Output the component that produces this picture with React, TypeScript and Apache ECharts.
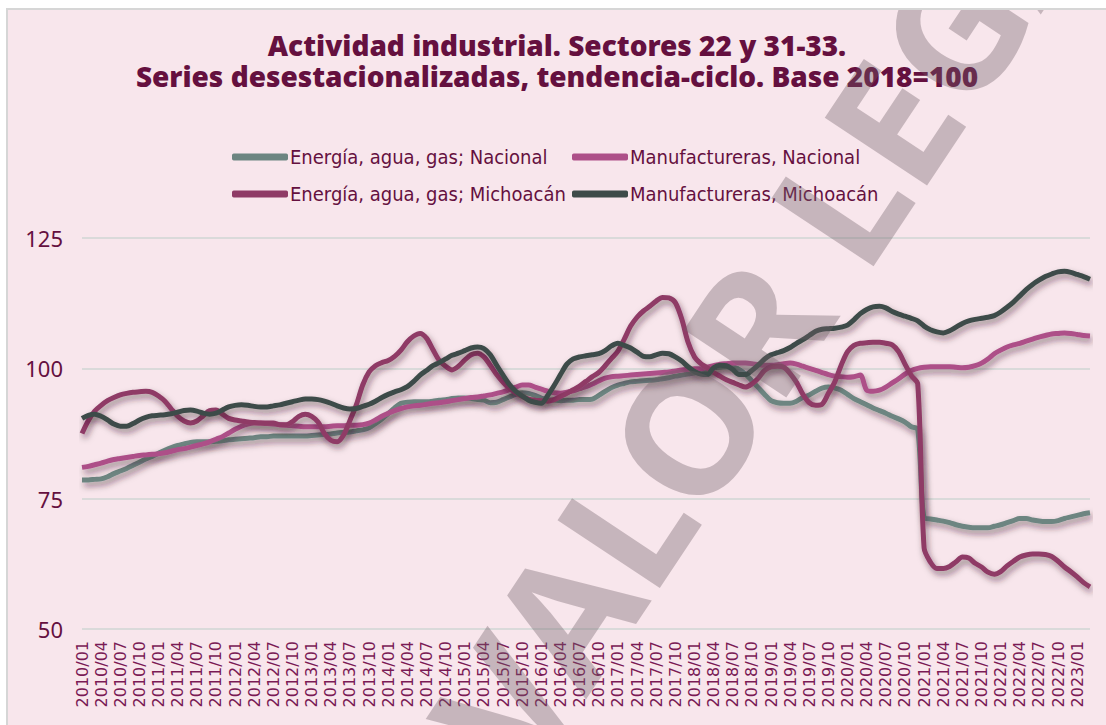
import React, { useEffect, useRef } from "react";
import * as echarts from "echarts";

const titleText = "Actividad industrial. Sectores 22 y 31-33.\nSeries desestacionalizadas, tendencia-ciclo. Base 2018=100";
const seriesNames = [
  "Energía, agua, gas; Nacional",
  "Manufactureras, Nacional",
  "Energía, agua, gas; Michoacán",
  "Manufactureras, Michoacán",
];
const seriesColors = ["#6d8581", "#ad4f88", "#8f3b66", "#3e4b49"];

const firstYear = 2010;
const monthCount = 159;
const months: string[] = [];
for (let i = 0; i < monthCount; i++) {
  const y = firstYear + Math.floor(i / 12);
  const m = (i % 12) + 1;
  months.push(`${y}/${m < 10 ? "0" + m : m}`);
}

const energiaNacional = [
  78.6, 78.6, 78.7, 78.8, 79.2, 79.8, 80.3, 80.8, 81.4, 82.0, 82.6, 83.1,
  83.7, 84.3, 84.8, 85.2, 85.5, 85.8, 85.9, 85.9, 85.9, 86.0, 86.1, 86.3,
  86.4, 86.5, 86.6, 86.7, 86.9, 86.9, 87.0, 87.0, 87.0, 87.0, 87.0, 87.0,
  87.1, 87.2, 87.3, 87.4, 87.6, 87.7, 87.8, 88.0, 88.2, 88.6, 89.4, 90.3,
  91.3, 92.4, 93.3, 93.5, 93.6, 93.6, 93.6, 93.7, 93.9, 94.0, 94.2, 94.3,
  94.3, 94.2, 94.0, 93.9, 93.4, 93.5, 94.0, 94.5, 95.0, 95.3, 95.2, 94.8,
  94.3, 94.0, 93.9, 93.8, 93.9, 93.9, 94.0, 94.0, 94.1, 94.8, 95.6, 96.3,
  96.8, 97.1, 97.4, 97.5, 97.6, 97.7, 97.8, 98.0, 98.2, 98.5, 98.7, 98.9,
  99.1, 99.4, 99.8, 100.1, 100.2, 100.3, 100.3, 99.8, 98.9, 97.6, 96.3, 95.0,
  93.8, 93.4, 93.3, 93.3, 93.7, 94.4, 94.9, 95.6, 96.2, 96.4, 96.2, 95.8,
  95.0, 94.2, 93.6, 93.0, 92.4, 91.9, 91.4, 90.8, 90.3, 89.7, 88.8, 88.3,
  71.3, 71.1, 70.9, 70.7, 70.4, 70.0, 69.7, 69.5, 69.4, 69.4, 69.4, 69.7,
  70.0, 70.4, 70.8, 71.2, 71.2, 70.9, 70.7, 70.6, 70.6, 70.8, 71.2, 71.5,
  71.8, 72.1, 72.3,
];

const manufNacional = [
  81.0, 81.2, 81.5, 81.8, 82.2, 82.5, 82.7, 82.9, 83.1, 83.3, 83.4, 83.5,
  83.6, 83.8, 84.1, 84.4, 84.6, 84.9, 85.2, 85.5, 85.9, 86.4, 86.9, 87.6,
  88.3, 88.9, 89.3, 89.5, 89.5, 89.4, 89.3, 89.2, 89.1, 89.0, 88.9, 88.8,
  88.8, 88.8, 88.8, 88.9, 89.0, 89.0, 89.1, 89.1, 89.2, 89.5, 90.1, 90.8,
  91.4, 91.9, 92.3, 92.6, 92.8, 92.9, 93.1, 93.3, 93.4, 93.6, 93.8, 94.0,
  94.2, 94.4, 94.5, 94.7, 94.9, 95.2, 95.5, 95.9, 96.4, 96.8, 96.8, 96.4,
  96.0, 95.6, 95.3, 95.2, 95.4, 95.7, 96.1, 96.5, 97.0, 97.6, 98.1, 98.4,
  98.5, 98.6, 98.7, 98.8, 98.9, 99.0, 99.1, 99.2, 99.3, 99.5, 99.7, 99.8,
  99.9, 99.9, 100.2, 100.5, 100.8, 100.9, 101.0, 101.0, 101.0, 100.9, 100.7, 100.6,
  100.6, 100.7, 100.9, 101.0, 100.8, 100.4, 100.0, 99.6, 99.2, 98.8, 98.5, 98.4,
  98.3, 98.4, 98.7, 95.8, 95.6, 95.8, 96.4, 97.2, 98.0, 98.9, 99.6, 100.0,
  100.2, 100.3, 100.3, 100.3, 100.3, 100.2, 100.1, 100.2, 100.5, 101.0, 101.8, 102.8,
  103.5, 104.1, 104.5, 104.8, 105.2, 105.6, 106.0, 106.3, 106.6, 106.7, 106.8, 106.7,
  106.5, 106.3, 106.2,
];

const energiaMichoacan = [
  87.5, 90.0, 91.8, 92.9, 93.8, 94.4, 94.9, 95.2, 95.4, 95.5, 95.6, 95.4,
  94.7, 93.7, 92.2, 90.8, 89.9, 89.5, 89.9, 90.9, 91.9, 92.0, 91.2, 90.4,
  90.1, 89.9, 89.7, 89.6, 89.5, 89.5, 89.5, 89.2, 89.2, 89.8, 90.8, 91.2,
  90.8, 89.7, 87.5, 86.2, 85.9, 87.2, 90.0, 93.0, 96.8, 99.3, 100.5, 101.1,
  101.5, 102.3, 103.5, 105.1, 106.2, 106.7, 105.8, 103.6, 101.5, 100.4, 99.7, 100.4,
  101.6, 102.6, 102.9, 102.2, 100.6, 98.8, 97.3, 96.1, 95.3, 94.6, 94.1, 93.9,
  93.8, 93.7, 94.0, 94.6, 95.2, 95.9, 96.6, 97.5, 98.4, 99.2, 100.5, 101.9,
  103.3, 105.6, 108.1, 109.8, 111.0, 111.9, 112.9, 113.6, 113.5, 112.6, 109.5, 105.0,
  102.2, 100.9, 100.1, 99.2, 98.5, 97.8, 97.3, 96.8, 96.4, 97.0, 98.1, 99.6,
  100.3, 100.4, 100.2, 99.0, 97.3, 95.0, 93.4, 92.9, 93.1, 95.2, 97.4, 100.6,
  103.2, 104.4, 104.8, 104.9, 105.0, 105.0, 104.8, 104.5, 103.2, 100.8, 98.6, 97.0,
  65.5, 62.8, 61.6, 61.6, 62.0, 62.9, 63.8, 63.6, 62.6, 61.9, 60.9, 60.5,
  61.0, 62.1, 63.0, 63.8, 64.2, 64.4, 64.4, 64.3, 63.9, 63.0, 61.9, 61.0,
  60.0, 58.9, 58.1,
];

const manufMichoacan = [
  90.4, 91.0, 91.2, 90.8, 90.1, 89.3, 88.9, 88.9, 89.4, 90.1, 90.6, 90.9,
  91.0, 91.1, 91.3, 91.6, 91.9, 92.0, 91.8, 91.4, 91.2, 91.4, 92.0, 92.6,
  92.9, 93.0, 92.9, 92.7, 92.6, 92.6, 92.8, 93.0, 93.3, 93.6, 93.9, 94.1,
  94.1, 94.0, 93.7, 93.3, 92.8, 92.4, 92.2, 92.3, 92.7, 93.1, 93.7, 94.4,
  95.0, 95.5, 95.9, 96.5, 97.5, 98.7, 99.6, 100.5, 101.1, 101.8, 102.5, 102.9,
  103.4, 103.9, 104.1, 103.8, 102.6, 100.6, 98.7, 96.9, 95.6, 94.7, 93.9, 93.5,
  93.3, 94.8, 96.7, 98.8, 100.8, 101.8, 102.2, 102.4, 102.6, 102.8, 103.4, 104.3,
  104.8, 104.4, 103.9, 103.1, 102.3, 102.2, 102.6, 102.9, 102.8, 102.2, 101.4, 100.3,
  99.4, 98.9, 98.8, 100.1, 100.6, 100.5, 99.8, 98.8, 98.8, 99.6, 100.6, 101.8,
  102.6, 103.0, 103.4, 104.0, 104.8, 105.5, 106.3, 107.1, 107.5, 107.6, 107.7, 107.9,
  108.3, 109.3, 110.5, 111.3, 111.8, 111.9, 111.6, 110.9, 110.4, 110.0, 109.6, 109.1,
  108.1, 107.4, 107.0, 106.8, 107.2, 107.9, 108.6, 109.1, 109.4, 109.6, 109.8, 110.1,
  110.8, 111.7, 112.7, 113.9, 115.1, 116.1, 116.9, 117.6, 118.1, 118.5, 118.6, 118.4,
  118.0, 117.6, 117.1,
];

const seriesValues = [energiaNacional, manufNacional, energiaMichoacan, manufMichoacan];

const yMin = 50;
const yMax = 125;
const yInterval = 25;
const watermarkText = "VALOR LEGAL";

const plum = "#65103f";

export default function App() {
  const ref = useRef<HTMLDivElement>(null);
  useEffect(() => {
    if (!ref.current) return;
    const chart = echarts.init(ref.current, undefined, { renderer: "svg" });
    const legendPos = [
      { left: 219, top: 130 },
      { left: 559, top: 130 },
      { left: 219, top: 167 },
      { left: 559, top: 167 },
    ];
    chart.setOption({
      animation: false,
      backgroundColor: "#f8e6ec",
      title: {
        text: titleText,
        left: "center",
        top: 14,
        padding: 5,
        textStyle: {
          fontFamily: "'Noto Sans', sans-serif",
          fontWeight: 900,
          fontSize: 28,
          lineHeight: 31,
          color: plum,
        },
      },
      legend: seriesNames.map((n, i) => ({
        data: [n],
        left: legendPos[i].left,
        top: legendPos[i].top,
        icon: "roundRect",
        itemWidth: 56,
        itemHeight: 7,
        itemGap: 0,
        selectedMode: false,
        textStyle: {
          fontFamily: "'Liberation Sans Narrow', 'DejaVu Sans Condensed', 'Roboto Condensed', Roboto, sans-serif",
          fontSize: 20,
          lineHeight: 24,
          color: plum,
          padding: [0, 0, 0, -3],
        },
      })),
      grid: { left: 74, right: 16, top: 228, bottom: 96, containLabel: false },
      xAxis: {
        type: "category",
        data: months,
        boundaryGap: false,
        axisLine: { show: false },
        axisTick: { show: false },
        axisLabel: {
          interval: 2,
          rotate: 90,
          margin: 12,
          fontFamily: "'DejaVu Sans', sans-serif",
          fontSize: 16,
          color: "#7a1a55",
        },
        splitLine: { show: false },
      },
      yAxis: {
        type: "value",
        min: yMin,
        max: yMax,
        interval: yInterval,
        axisLine: { show: false },
        axisTick: { show: false },
        axisLabel: {
          margin: 19,
          fontFamily: "'Noto Sans', sans-serif",
          fontSize: 22,
          color: plum,
        },
        splitLine: { lineStyle: { color: "#dadada", width: 2 } },
      },
      series: seriesNames.map((n, i) => ({
        name: n,
        type: "line",
        data: seriesValues[i],
        smooth: 0.3,
        showSymbol: false,
        symbol: "none",
        itemStyle: { color: seriesColors[i] },
        lineStyle: {
          color: seriesColors[i],
          width: 5,
          shadowColor: "rgba(50,20,35,0.5)",
          shadowBlur: 6,
          shadowOffsetX: 2,
          shadowOffsetY: 4,
        },
      })),
      graphic: [
        {
          type: "text",
          x: 780,
          y: 264,
          rotation: 0.985,
          z: 100,
          silent: true,
          style: {
            text: watermarkText,
            font: "bold 172px 'Noto Sans', sans-serif",
            fill: "rgba(110,95,102,0.36)",
            textAlign: "center",
            textVerticalAlign: "middle",
          },
        },
      ],
    });
    return () => chart.dispose();
  }, []);
  return (
    <div style={{ position: "fixed", left: 0, top: 0, width: 1106, height: 725, background: "#ffffff", overflow: "hidden" }}>
      <div
        ref={ref}
        style={{
          position: "absolute",
          left: 6,
          top: 8,
          width: 1100,
          height: 717,
          boxSizing: "border-box",
          borderLeft: "2px solid #d6d6d6",
          borderTop: "2px solid #d6d6d6",
        }}
      />
    </div>
  );
}
